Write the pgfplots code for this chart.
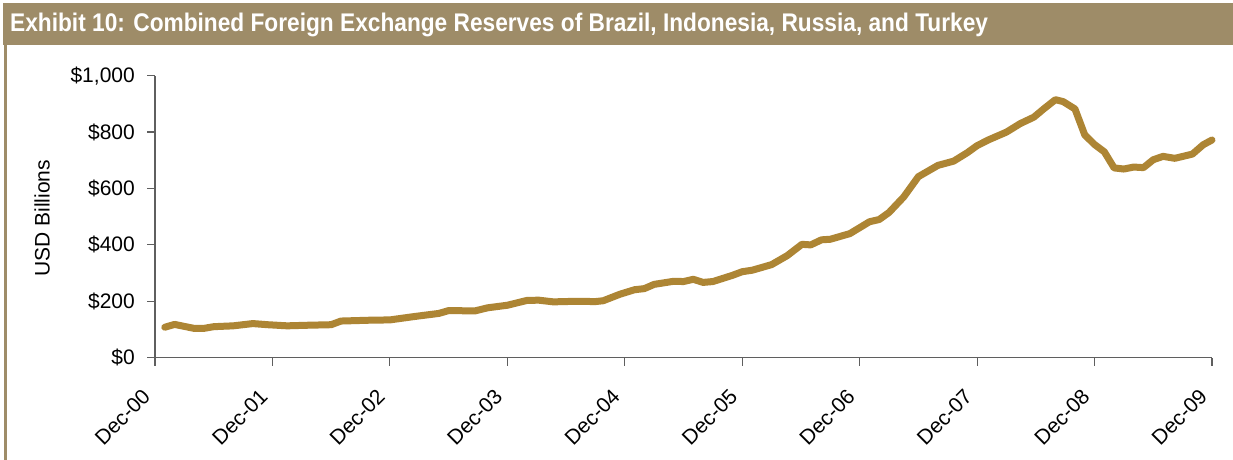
\documentclass[border=0pt]{standalone}
\usepackage{fontspec}
\setmainfont{Liberation Sans}
\newfontfamily\titlefont[FakeStretch=0.89]{Liberation Sans}
\usepackage{pgfplots}
\pgfplotsset{compat=1.18}

\definecolor{barkhaki}{RGB}{158,140,104}
\definecolor{reserveline}{RGB}{173,133,52}
\definecolor{axisgray}{RGB}{95,95,95}

% combined reserves, USD billions, by month after Dec-00
\pgfplotstableread{
m v
1 108
2 118
4 104
5 104
6 110
8 113
10 121
11.5 117
13.5 113
15.5 115
18 117
19 130
22 133
24 134
26.5 146
29 157
30 167
32.7 166
34 177
36 186
38 203
39.2 204
40.7 198
43 200
45 199
45.8 202
47.5 225
49 241
50 245
51 260
53 271
54 270
55 278
56 267
57 270
59 292
60 305
61 310
63 330
64.6 362
66.1 402
67 400
68.1 418
69 420
71 440
73 482
74 490
75 515
76.5 570
78 642
79 662
80 682
81.6 697
83 727
84 752
85.2 773
87 800
88.4 830
89.8 853
90.8 882
92 915
92.8 908
94 882
95 790
96 756
97 730
98 673
99 669
100 676
101 674
102 702
103 714
104.2 707
106 722
107.1 755
108 772
}\reserves

\begin{document}
\begin{tikzpicture}
\path[use as bounding box, fill=white] (0pt,0pt) rectangle (1233pt,460pt);
% frame: title bar and left rule
\fill[barkhaki] (3pt,415pt) rectangle (1233pt,457pt);
\fill[barkhaki] (4pt,0pt) rectangle (7pt,457pt);
\node[anchor=base west, inner sep=0pt, text=white, font=\titlefont\bfseries\fontsize{25.5}{29}\selectfont]
  at (10pt,428pt) {Exhibit 10: Combined Foreign Exchange Reserves of Brazil, Indonesia, Russia, and Turkey};

\begin{axis}[
    at={(155pt,102.3pt)}, anchor=south west,
    scale only axis,
    width=1057pt, height=282pt,
    xmin=0, xmax=108,
    ymin=0, ymax=1000,
    axis x line=bottom, axis y line=left,
    axis line style={-, draw=axisgray, line width=1.2pt},
    tick align=outside,
    major tick length=8pt,
    tick style={draw=axisgray, line width=1.2pt},
    xtick={0,12,...,108},
    xticklabels={Dec-00,Dec-01,Dec-02,Dec-03,Dec-04,Dec-05,Dec-06,Dec-07,Dec-08,Dec-09},
    ytick={0,200,...,1000},
    yticklabels={\$0,\$200,\$400,\$600,\$800,{\$1,000}},
    ticklabel style={font=\fontsize{21}{25}\selectfont, text=black},
    xticklabel style={xshift=-14pt, yshift=-22pt, rotate=45, anchor=north east, inner sep=0pt},
    yticklabel style={anchor=east, inner sep=0pt, xshift=-12pt},
    ylabel={USD Billions},
    ylabel style={at={(axis description cs:-0.1069,0.494)}, anchor=center,
        font=\fontsize{21}{25}\selectfont},
    clip=false,
]
\addplot[reserveline, line width=7pt, line join=round, line cap=round] table[x=m, y=v] {\reserves};
\end{axis}
\end{tikzpicture}
\end{document}
